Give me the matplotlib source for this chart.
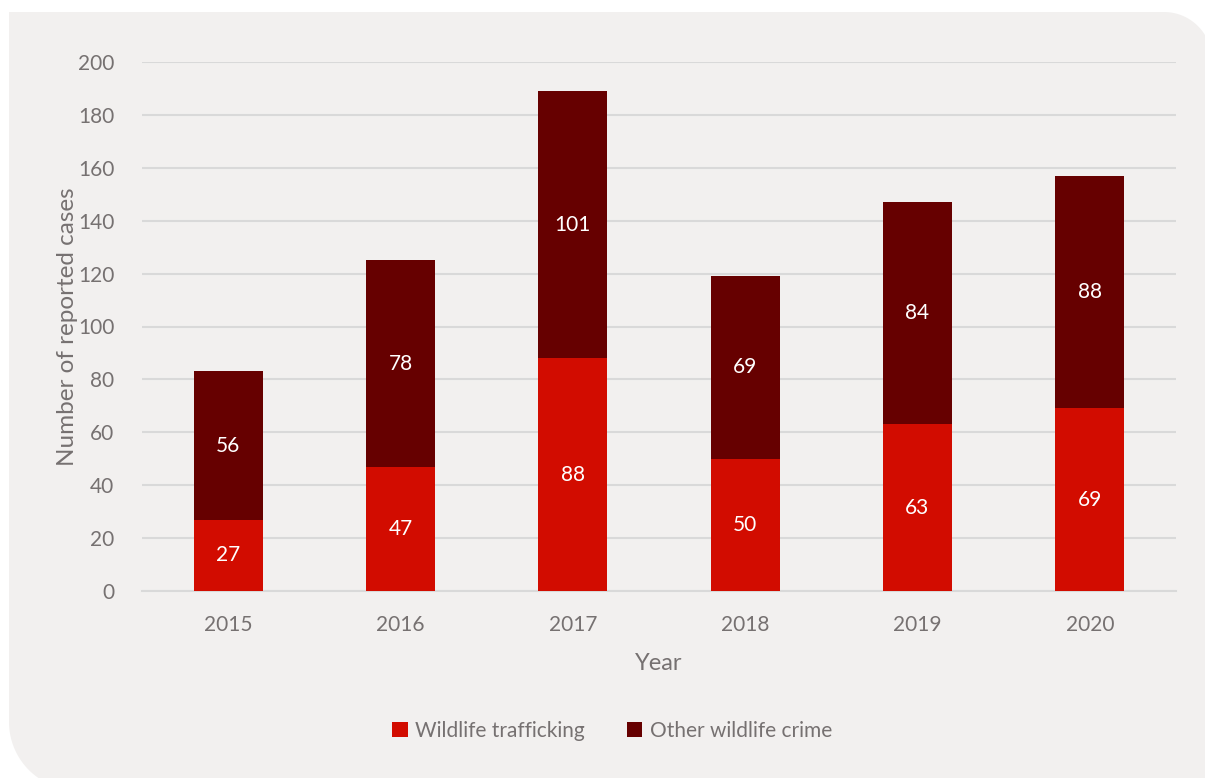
import matplotlib.pyplot as plt
import matplotlib.patches as mpatches
from matplotlib.path import Path
import numpy as np

years = ['2015', '2016', '2017', '2018', '2019', '2020']
trafficking = [27, 47, 88, 50, 63, 69]
other_crime = [56, 78, 101, 69, 84, 88]
series_names = ['Wildlife trafficking', 'Other wildlife crime']

red = '#D20C00'
dark_red = '#660000'
panel_bg = '#F2F0EF'
text_grey = '#767171'
grid_grey = '#D9D9D9'

plt.rcParams['font.family'] = ['Lato', 'DejaVu Sans']

W, H = 1205, 778
fig = plt.figure(figsize=(W / 100, H / 100), dpi=100)
fig.patch.set_facecolor('white')

# background panel in pixel coordinates, rounded top-right and bottom-left
bg = fig.add_axes([0, 0, 1, 1])
bg.set_xlim(0, W)
bg.set_ylim(H, 0)
bg.axis('off')


def arc(cx, cy, r, a0, a1, n=30):
    t = np.radians(np.linspace(a0, a1, n))
    return list(zip(cx + r * np.cos(t), cy - r * np.sin(t)))


left, top, right, bottom = 9, 12, 1212, 790
r_tr, r_bl = 48, 68
pts = [(left, top)]
pts += arc(right - r_tr, top + r_tr, r_tr, 90, 0)
pts += [(right, bottom)]
pts += arc(left + r_bl, bottom - r_bl, r_bl, 270, 180)
pts += [(left, top)]
bg.add_patch(mpatches.PathPatch(Path(pts), facecolor=panel_bg, edgecolor='none'))

ax = fig.add_axes([142 / W, 1 - 591 / H, (1176 - 142) / W, (591 - 62) / H])
ax.set_facecolor('none')

x = np.arange(len(years))
bar_w = 0.40
b1 = ax.bar(x, trafficking, bar_w, color=red, label=series_names[0], zorder=3)
b2 = ax.bar(x, other_crime, bar_w, bottom=trafficking, color=dark_red,
            label=series_names[1], zorder=3)

for i in range(len(years)):
    ax.text(x[i], trafficking[i] / 2, str(trafficking[i]), ha='center', va='center',
            color='white', fontsize=15, zorder=4)
    ax.text(x[i], trafficking[i] + other_crime[i] / 2, str(other_crime[i]),
            ha='center', va='center', color='white', fontsize=15, zorder=4)

ax.set_xlim(-0.5, len(years) - 0.5)
ax.set_ylim(0, 200)
ax.set_yticks(range(0, 201, 20))
ax.set_xticks(x)
ax.set_xticklabels(years)
ax.grid(axis='y', color=grid_grey, linewidth=1.5, zorder=0)
ax.set_axisbelow(True)
for s in ['top', 'right', 'left']:
    ax.spines[s].set_visible(False)
ax.spines['bottom'].set_color(grid_grey)
ax.spines['bottom'].set_linewidth(1.5)
ax.tick_params(axis='both', length=0, labelsize=15, colors=text_grey)
ax.tick_params(axis='y', pad=20)
ax.tick_params(axis='x', pad=17)

ax.set_xlabel('Year', fontsize=17, color=text_grey, labelpad=13)
ax.set_ylabel('Number of reported cases', fontsize=17.5, color=text_grey, labelpad=0)

fig.legend(handles=[b1, b2], loc='center', bbox_to_anchor=(612 / W, 1 - 731 / H),
           ncol=2, frameon=False, fontsize=15, labelcolor=text_grey,
           handlelength=0.75, handleheight=0.75, handletextpad=0.35, columnspacing=2.0)

fig.savefig('out.png', dpi=100, facecolor='white')
